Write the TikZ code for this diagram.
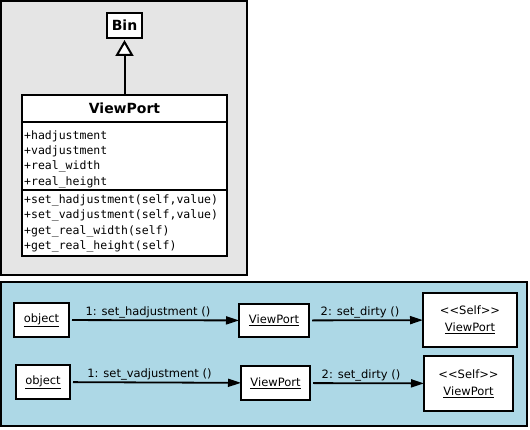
\documentclass[tikz,border=0pt]{standalone}
\usepackage{fontspec}
\setmainfont{DejaVu Sans}
\setmonofont{DejaVu Sans Mono}
\usetikzlibrary{positioning, arrows.meta}
\definecolor{panelgray}{RGB}{229,229,229}
\definecolor{panelblue}{RGB}{173,216,230}

\begin{document}
\begin{tikzpicture}[x=1pt, y=-1pt,
    box/.style={draw, fill=white, line width=2pt, outer sep=0pt, inner sep=0pt,
      align=center, font=\fontsize{11.5}{17}\selectfont},
    member/.style={anchor=north west, inner sep=0pt, align=left,
      font=\fontsize{11.5}{15.3}\ttfamily},
    msg/.style={-{Triangle[length=13pt,width=8pt]}, line width=1.8pt, shorten <=3pt},
    msglabel/.style={above, inner sep=1pt, xshift=-6pt, font=\fontsize{11.5}{13}\selectfont}]
  \useasboundingbox (0,0) rectangle (530,430);
  \draw[line width=2pt, fill=panelgray] (1,1) rectangle (247,275);
  \draw[line width=2pt, fill=panelblue] (1,282.5) rectangle (527,426);
  % class diagram
  \node[box, minimum width=35pt, minimum height=25pt,
    font=\fontsize{14}{16}\selectfont\bfseries] (bin) at (124.5,25.5) {Bin};
  \node[box, minimum width=205pt, minimum height=27pt,
    font=\fontsize{14}{16}\selectfont\bfseries] (vptitle) at (124.5,108.5) {ViewPort};
  \node[box, minimum width=205pt, minimum height=68pt, below=0 of vptitle] (vpattrs) {};
  \node[box, minimum width=205pt, minimum height=66pt, below=0 of vpattrs] (vpops) {};
  \node[member] (attrlist) at (24,130.3)
    {+hadjustment\\+vadjustment\\+real\_width\\+real\_height};
  \node[member] (oplist) at (24,194.6)
    {+set\_hadjustment(self,value)\\+set\_vadjustment(self,value)\\
     +get\_real\_width(self)\\+get\_real\_height(self)};
  \draw[line width=2pt, shorten >=2pt,
    -{Triangle[open, fill=white, length=16pt, width=18pt]}] (vptitle) -- (bin);
  % collaboration diagram
  \node[box, minimum width=55pt, minimum height=34pt] (obja) at (41.5,320) {\underline{object}};
  \node[box, minimum width=70pt, minimum height=33pt] (vpa) at (274,320.5) {\underline{ViewPort}};
  \node[box, minimum width=94pt, minimum height=54pt] (selfa) at (470,320)
    {<{}<Self>{}>\\\underline{ViewPort}};
  \node[box, minimum width=54pt, minimum height=34pt] (objb) at (43,382) {\underline{object}};
  \node[box, minimum width=69pt, minimum height=34pt] (vpb) at (275.5,383) {\underline{ViewPort}};
  \node[box, minimum width=89pt, minimum height=55pt] (selfb) at (468.5,383.5)
    {<{}<Self>{}>\\\underline{ViewPort}};
  \draw[msg] (obja) -- (vpa) node[msglabel, midway] {1: set\_hadjustment ()};
  \draw[msg] (vpa) -- (selfa) node[msglabel, midway] {2: set\_dirty ()};
  \draw[msg] (objb) -- (vpb) node[msglabel, midway] {1: set\_vadjustment ()};
  \draw[msg] (vpb) -- (selfb) node[msglabel, midway] {2: set\_dirty ()};
\end{tikzpicture}
\end{document}
